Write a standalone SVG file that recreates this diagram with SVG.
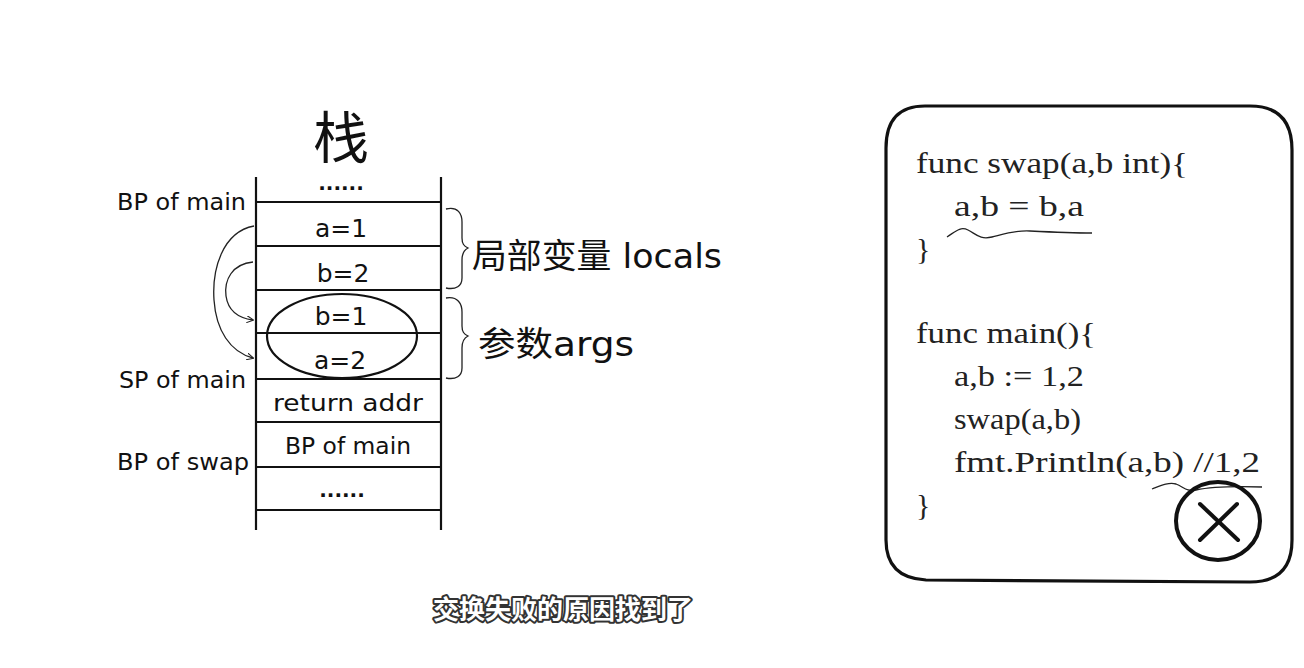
<svg xmlns="http://www.w3.org/2000/svg" width="1304" height="668" viewBox="0 0 1304 668">
<defs>
<style>
.hand{font-family:"DejaVu Sans","Noto Sans CJK SC",sans-serif;fill:#111}
.code{font-family:"Liberation Serif","Noto Serif",serif;fill:#222;font-size:30px}
.ln{stroke:#111;stroke-width:2.2;fill:none}
.thin{stroke:#222;stroke-width:1.3;fill:none}
</style>
<marker id="ah" viewBox="0 0 10 10" refX="9" refY="5" markerWidth="7" markerHeight="7" orient="auto-start-reverse" markerUnits="userSpaceOnUse">
<path d="M0,0 L10,5 L0,10" fill="none" stroke="#222" stroke-width="1.5"/>
</marker>
</defs>
<rect width="1304" height="668" fill="#fff"/>
<g id="stack">
<text class="hand" x="341" y="158" font-size="56" text-anchor="middle">栈</text>
<line class="ln" x1="256" y1="177" x2="256" y2="530"/>
<line class="ln" x1="441" y1="177" x2="441" y2="530"/>
<line class="ln" x1="256" y1="202" x2="441" y2="202"/>
<line class="ln" x1="256" y1="246" x2="441" y2="246"/>
<line class="ln" x1="256" y1="290" x2="441" y2="290"/>
<line class="ln" x1="256" y1="333" x2="441" y2="333"/>
<line class="ln" x1="256" y1="379" x2="441" y2="379"/>
<line class="ln" x1="256" y1="422" x2="441" y2="422"/>
<line class="ln" x1="256" y1="467" x2="441" y2="467"/>
<line class="ln" x1="256" y1="510" x2="441" y2="510"/>
<text class="hand" x="341" y="190" font-size="20" text-anchor="middle" font-weight="bold">......</text>
<text class="hand" x="341" y="237" font-size="25" text-anchor="middle">a=1</text>
<text class="hand" x="343" y="282" font-size="25" text-anchor="middle">b=2</text>
<text class="hand" x="341" y="325" font-size="25" text-anchor="middle">b=1</text>
<text class="hand" x="340" y="369" font-size="25" text-anchor="middle">a=2</text>
<text class="hand" x="348" y="411" font-size="23" text-anchor="middle" textLength="150" lengthAdjust="spacingAndGlyphs">return addr</text>
<text class="hand" x="348" y="454" font-size="23" text-anchor="middle" textLength="126" lengthAdjust="spacingAndGlyphs">BP of main</text>
<text class="hand" x="342" y="497" font-size="20" text-anchor="middle" font-weight="bold">......</text>
<ellipse class="ln" cx="342" cy="336" rx="75" ry="42" stroke-width="1.6"/>
</g>
<g id="labels">
<text class="hand" x="117" y="210" font-size="23" textLength="129" lengthAdjust="spacingAndGlyphs">BP of main</text>
<text class="hand" x="119" y="388" font-size="23" textLength="127" lengthAdjust="spacingAndGlyphs">SP of main</text>
<text class="hand" x="117" y="470" font-size="23" textLength="132" lengthAdjust="spacingAndGlyphs">BP of swap</text>
<text class="hand" x="472" y="268" font-size="34" textLength="250" lengthAdjust="spacingAndGlyphs">局部变量 locals</text>
<text class="hand" x="478" y="356" font-size="34" textLength="156" lengthAdjust="spacingAndGlyphs">参数args</text>
</g>
<g id="braces">
<path class="thin" d="M446,209 C458,206 462,214 462,222 L462,238 C462,244 464,246 468,248 C464,250 462,254 462,260 L462,278 C462,286 456,290 446,288"/>
<path class="thin" d="M446,298 C458,296 462,304 462,312 L462,326 C462,332 464,334 468,336 C464,338 462,342 462,348 L462,368 C462,376 456,380 446,378"/>
</g>
<g id="connectors">
<path class="thin" d="M254,226 C222,232 212,270 214,300 C216,330 230,352 253,358" marker-end="url(#ah)"/>
<path class="thin" d="M253,262 C232,264 224,280 226,296 C228,310 238,318 253,320" marker-end="url(#ah)"/>
</g>
<g id="codebox">
<path d="M925,106 L1250,106 Q1292,106 1292,150 L1292,540 Q1292,582 1250,582 L926,580 Q886,578 886,540 L886,148 Q886,106 925,106 Z" fill="none" stroke="#111" stroke-width="3.2"/>
<text class="code" x="916" y="173" textLength="272" lengthAdjust="spacingAndGlyphs">func swap(a,b int){</text>
<text class="code" x="954" y="216" textLength="130" lengthAdjust="spacingAndGlyphs">a,b = b,a</text>
<text class="code" x="916" y="259">}</text>
<text class="code" x="916" y="343" textLength="180" lengthAdjust="spacingAndGlyphs">func main(){</text>
<text class="code" x="954" y="386" textLength="130" lengthAdjust="spacingAndGlyphs">a,b := 1,2</text>
<text class="code" x="954" y="429" textLength="127" lengthAdjust="spacingAndGlyphs">swap(a,b)</text>
<text class="code" x="954" y="472" textLength="306" lengthAdjust="spacingAndGlyphs">fmt.Println(a,b)  //1,2</text>
<text class="code" x="916" y="515">}</text>
<path class="thin" d="M947,237 C955,232 960,226 968,230 C976,234 980,240 992,237 C1004,234 1016,230 1030,231 C1050,232 1070,233 1092,233"/>
<path class="thin" d="M1152,489 C1160,486 1168,482 1176,484 C1184,487 1186,492 1196,490 C1210,487 1230,486 1262,487"/>
<ellipse cx="1218" cy="521" rx="42" ry="39" fill="none" stroke="#111" stroke-width="4"/>
<line x1="1200" y1="504" x2="1238" y2="540" stroke="#111" stroke-width="4" stroke-linecap="round"/>
<line x1="1237" y1="504" x2="1200" y2="540" stroke="#111" stroke-width="4" stroke-linecap="round"/>
</g>
<g id="subtitle">
<text x="563" y="619" font-family="Noto Sans CJK SC, sans-serif" font-size="26" font-weight="bold" text-anchor="middle" fill="#fff" stroke="#333" stroke-width="4" paint-order="stroke" stroke-linejoin="round">交换失败的原因找到了</text>
</g>
</svg>
